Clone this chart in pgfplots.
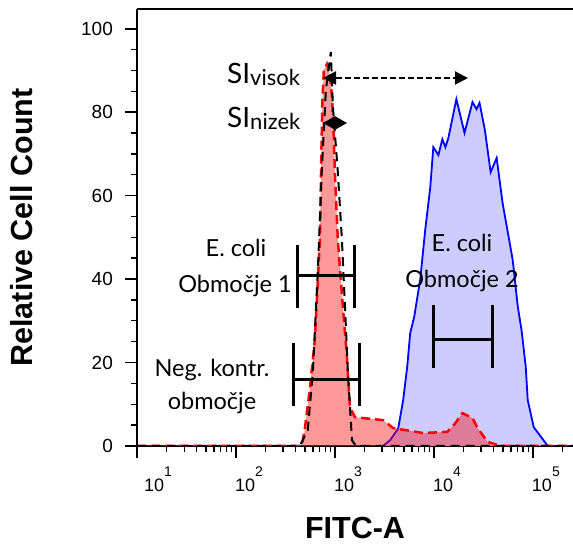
\documentclass[border=0pt]{standalone}
\usepackage{fontspec}
\setmainfont{Liberation Sans}
\newfontfamily\latofont{Lato}
\usepackage{pgfplots}
\pgfplotsset{compat=1.18}
\usetikzlibrary{arrows.meta}

\definecolor{bluefill}{RGB}{204,204,255}
\newcommand{\tenpow}[1]{10\raisebox{15pt}{\fontsize{14}{14}\selectfont #1}}

% E. coli, region 1 (red histogram)
\pgfplotstableread{
x y
10 0
462 0
495 3.8
557 13.4
627 25.4
705 49.3
730 70
746 82
773 90
830 91.5
889 89
933 84
966 77
1000 65.4
1072 49.3
1205 33.3
1324 21.3
1419 9.3
1596 6.9
1923 6.7
3069 6.2
3882 4.3
7816 3.1
13710 3.4
16520 5.5
19450 7.9
24600 6.7
27670 4.3
34910 1.0
47320 0
255000 0
}\redtab

% negative control (black dashed)
\pgfplotstableread{
x y
10 0
442 0
532 3.8
598 17.5
671 41.4
738 66.1
811 85.3
910 94.4
955 81.2
1072 65.4
1178 49.3
1265 33.3
1355 17.5
1489 1.4
1633 0
255000 0
}\blacktab

% E. coli, region 2 (blue histogram)
\pgfplotstableread{
x y
10 0
3069 0
3614 1.4
4365 4.2
4898 11
5383 19
5768 27
6339 31
7295 40
8204 52
9204 62
9886 71.6
11120 69.7
12190 73.5
13090 71.6
14030 73.8
16900 83.1
20420 75.0
24600 82.4
26980 80.7
28970 82.2
32810 75.7
37500 65.6
43150 69.0
49550 58.2
62660 44.6
70470 33.5
77270 27.5
84920 18.9
88920 11.0
102300 4.5
141900 0
255000 0
}\bluetab

\begin{document}
\begin{tikzpicture}
\begin{axis}[
    scale only axis,
    width=436pt, height=437pt,
    xmode=log,
    xmin=10, xmax=255000,
    ymin=0, ymax=104.7,
    axis x line*=box, axis y line*=left,
    xtick={10,100,1000,10000,100000},
    xticklabels={\hspace*{8pt}\tenpow{1},\tenpow{2},\tenpow{3},\tenpow{4},\tenpow{5}},
    minor xtick={20,30,40,50,60,70,80,90,200,300,400,500,600,700,800,900,2000,3000,4000,5000,6000,7000,8000,9000,20000,30000,40000,50000,60000,70000,80000,90000,200000},
    ytick={0,20,40,60,80,100},
    minor y tick num=3,
    tick align=outside,
    xtick pos=bottom, ytick pos=left,
    major tick length=12pt, minor tick length=6pt,
    major tick style={black, line width=1.8pt},
    minor tick style={black, line width=1.4pt},
    axis line style={line width=1.5pt},
    /pgf/number format/assume math mode=true,
    tick label style={font=\fontsize{18}{18}\selectfont},
    xticklabel style={anchor=north west, inner sep=0pt, xshift=-1pt, yshift=-9pt},
    yticklabel style={font=\fontsize{19}{19}\selectfont, anchor=east, inner sep=0pt, xshift=-4pt},
    yticklabel shift=8pt,
    xlabel={FITC-A},
    ylabel={Relative Cell Count},
    label style={font=\bfseries\fontsize{30.5}{30.5}\selectfont, inner sep=0pt},
    xlabel style={at={(axis description cs:0.5,0)}, anchor=center, yshift=-82pt},
    ylabel style={at={(axis description cs:0,0.5)}, anchor=center, yshift=115pt},
]
\addplot[draw=blue, line width=1.8pt, fill=bluefill] table {\bluetab};
\addplot[draw=none, fill=red, fill opacity=0.4] table {\redtab};
\addplot[red, line width=2.5pt, dash pattern=on 9pt off 5pt] table {\redtab};
\addplot[black, line width=2pt, dash pattern=on 9pt off 6pt] table {\blacktab};
\end{axis}

% annotations, in picture pixels (origin top left of the image)
\begin{scope}[x=1pt, y=-1pt, shift={(-137pt,446pt)}, font=\latofont\fontsize{23.5}{23.5}\selectfont]
  \node[anchor=base west, inner sep=0pt] at (227,84)
    {\fontsize{28}{28}\selectfont SI\raisebox{-2pt}{\fontsize{22}{22}\selectfont visok}};
  \node[anchor=base west, inner sep=0pt] at (227,128)
    {\fontsize{28}{28}\selectfont SI\raisebox{-2pt}{\fontsize{22}{22}\selectfont nizek}};
  \draw[line width=2pt, dash pattern=on 6pt off 3pt,
        {Triangle[length=13pt,width=13pt]}-{Triangle[length=13pt,width=13pt]}]
        (323,78) -- (468,78);
  \draw[line width=2pt,
        {Triangle[length=12pt,width=13pt]}-{Triangle[length=12pt,width=13pt]}]
        (323,123) -- (347,123);

  \node[anchor=base, inner sep=0pt] at (236,257) {E. coli};
  \node[anchor=base, inner sep=0pt] at (235,293) {Območje 1};
  \node[anchor=base, inner sep=0pt] at (212,377) {Neg. kontr.};
  \node[anchor=base, inner sep=0pt] at (212,410) {območje};
  \node[anchor=base, inner sep=0pt] at (462,252) {E. coli};
  \node[anchor=base, inner sep=0pt] at (462,288) {Območje 2};

  \draw[line width=3pt] (297,245) -- (297,308) (354,245) -- (354,308) (297,276) -- (354,276);
  \draw[line width=3pt] (293,343) -- (293,406) (359,343) -- (359,406) (293,380) -- (359,380);
  \draw[line width=3pt] (433,305) -- (433,368) (492,305) -- (492,368) (433,340) -- (492,340);
\end{scope}

\pgfresetboundingbox
\path[use as bounding box] (-137pt,-99pt) rectangle (436pt,446pt);
\end{tikzpicture}
\end{document}
